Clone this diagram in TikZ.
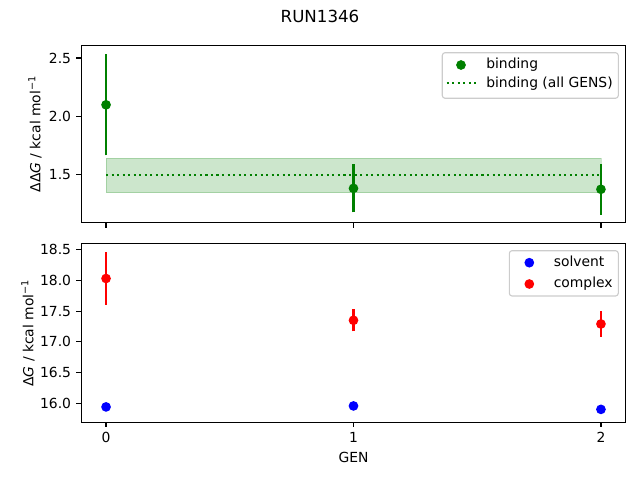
\documentclass[tikz,border=0pt]{standalone}
\usepackage{fontspec}
\setmainfont{DejaVu Sans}
\usepackage{tikz}
\usetikzlibrary{
  positioning,
  backgrounds
}
\definecolor{mplgreen}{HTML}{008000}
\definecolor{mplred}{HTML}{FF0000}
\definecolor{mplblue}{HTML}{0000FF}
\definecolor{legendedge}{HTML}{CCCCCC}

\begin{document}
\begin{tikzpicture}[
      x=0.72pt, y=0.72pt,
      axes box/.style={
         draw=black,
         line width=0.8pt
      },
      tick/.style={line width=0.8pt},
      ytick label/.style={left=3.5pt, inner sep=0pt, font=\fontsize{10}{12}\selectfont},
      xtick label/.style={below=3.5pt, inner sep=0pt, font=\fontsize{10}{12}\selectfont},
      err bar/.style={line width=1.5pt},
      point/.style={circle, inner sep=0pt, minimum size=7pt},
      band/.style={fill=mplgreen, fill opacity=0.2, draw=mplgreen, draw opacity=0.2},
      mean line/.style={mplgreen, line width=1.5pt, dash pattern=on 1.5pt off 2.475pt},
      legend box/.style={
         draw=legendedge,
         fill=white,
         fill opacity=0.8,
         rounded corners=2pt,
         line width=0.8pt
      },
      legend text/.style={anchor=base west, inner sep=0pt, font=\fontsize{10}{12}\selectfont},
      axis label/.style={inner sep=0pt, font=\fontsize{10}{12}\selectfont}
    ]
    \useasboundingbox (0,0) rectangle (640,480);

    \node (title) [anchor=base, inner sep=0pt, font=\fontsize{12}{14}\selectfont] at (320,457.7) {RUN1346};

    % binding free energy
    \begin{scope}[shift={(106.05,130.25)}, x=178.16pt, y=84.02pt]
      \fill[band] (0,1.346) rectangle (2,1.643);
      \draw[mean line] (0,1.495) -- (2,1.495);
      \foreach \g/\v/\e in {0/2.099/0.433, 1/1.383/0.205, 2/1.375/0.22} {
         \draw[err bar, mplgreen] (\g,{\v-\e}) -- (\g,{\v+\e});
         \node (bind\g) [point, fill=mplgreen] at (\g,\v) {};
      }
      \draw[axes box] (-0.1,1.089) rectangle (2.1,2.609);
      \foreach \v [count=\k] in {1.5,2.0,2.5}
         \draw[tick] (-0.1,\v) -- ++(-3.5pt,0) node (ytop\k) [ytick label] {\v};
      \foreach \g in {0,1,2}
         \draw[tick] (\g,1.089) -- ++(0,-3.5pt);
    \end{scope}
    \node (ylabtop) [axis label, rotate=90, anchor=base] at (40.3,346) {ΔΔ\textit{G} / kcal mol\textsuperscript{−1}};

    % solvent and complex legs
    \begin{scope}[shift={(106.05,-906.34)}, x=178.16pt, y=44.24pt]
      \foreach \g/\v/\e in {0/18.03/0.43, 1/17.35/0.18, 2/17.29/0.21} {
         \draw[err bar, mplred] (\g,{\v-\e}) -- (\g,{\v+\e});
         \node (cplx\g) [point, fill=mplred] at (\g,\v) {};
      }
      \foreach \g/\v in {0/15.94, 1/15.956, 2/15.90}
         \node (solv\g) [point, fill=mplblue] at (\g,\v) {};
      \draw[axes box] (-0.1,15.69) rectangle (2.1,18.598);
      \foreach \v [count=\k] in {16.0,16.5,17.0,17.5,18.0,18.5}
         \draw[tick] (-0.1,\v) -- ++(-3.5pt,0) node (ybot\k) [ytick label] {\v};
      \foreach \g in {0,1,2}
         \draw[tick] (\g,15.69) -- ++(0,-3.5pt) node (xbot\g) [xtick label] {\g};
    \end{scope}
    \node (ylabbot) [axis label, rotate=90, anchor=base] at (33.4,147) {Δ\textit{G} / kcal mol\textsuperscript{−1}};
    \node (xlab) [axis label, anchor=north] at (353.5,27.7) {GEN};

    % legends
    \draw[legend box] (442.3,381.7) rectangle (618.3,427.3);
    \node (legbind) [point, fill=mplgreen] at (461,415) {};
    \node (legbindtxt) [legend text] at (486,411.2) {binding};
    \coordinate (legmeanA) at (446.7,396.7);
    \coordinate (legmeanB) at (475.7,396.7);
    \draw[mean line] (legmeanA) -- (legmeanB);
    \node (legmeantxt) [legend text] at (486,392.2) {binding (all GENS)};

    \draw[legend box] (509.3,184) rectangle (618.3,229.3);
    \node (legsolv) [point, fill=mplblue] at (529.3,217.3) {};
    \node (legsolvtxt) [legend text] at (553.5,213.5) {solvent};
    \node (legcplx) [point, fill=mplred] at (529.3,196) {};
    \node (legcplxtxt) [legend text] at (553.5,192.2) {complex};
\end{tikzpicture}
\end{document}
